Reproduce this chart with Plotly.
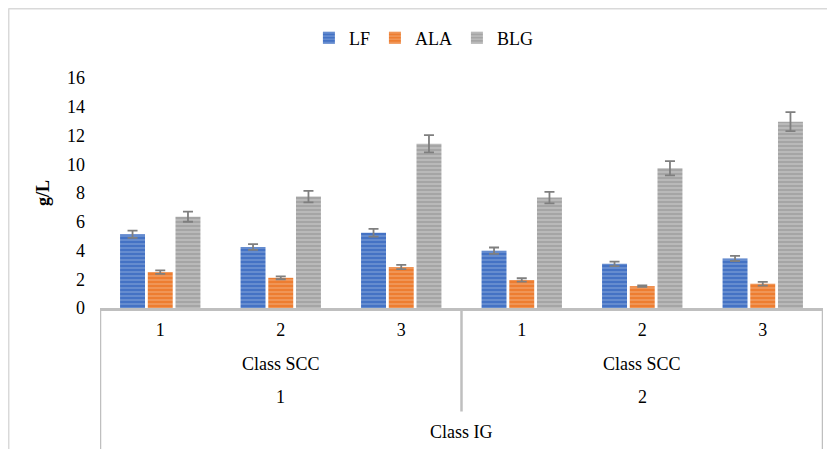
import plotly.graph_objects as go

# ---- data ----
scc_labels = ["1", "2", "3", "1", "2", "3"]
ig_labels = ["1", "2"]
scc_title = "Class SCC"
ig_title = "Class IG"
series_names = ["LF", "ALA", "BLG"]
LF = [5.13, 4.24, 5.24, 3.99, 3.07, 3.45]
LF_err = [0.25, 0.20, 0.27, 0.22, 0.15, 0.18]
ALA = [2.50, 2.10, 2.85, 1.95, 1.52, 1.69]
ALA_err = [0.12, 0.10, 0.15, 0.12, 0.05, 0.13]
BLG = [6.35, 7.75, 11.43, 7.68, 9.72, 12.96]
BLG_err = [0.35, 0.40, 0.60, 0.40, 0.50, 0.66]
y_ticks = [0, 2, 4, 6, 8, 10, 12, 14, 16]

colors = ["#4472C4", "#ED7D31", "#A5A5A5"]
stripe = ["#8FAADC", "#F4B183", "#D0D0D0"]
FONT = "Liberation Serif"

x = list(range(len(scc_labels)))
fig = go.Figure()
for name, vals, errs, c, s in zip(series_names, [LF, ALA, BLG], [LF_err, ALA_err, BLG_err], colors, stripe):
    fig.add_trace(go.Bar(
        x=x, y=vals, name=name,
        marker=dict(color=c, line=dict(width=0),
                    pattern=dict(shape="-", fgcolor=s, bgcolor=c, size=4, solidity=0.45, fillmode="overlay")),
        error_y=dict(type="data", array=errs, visible=True, color="#7F7F7F", thickness=1.8, width=5),
    ))

n = len(scc_labels)
line_col = "#BFBFBF"
border_col = "#D9D9D9"
shapes = [
    # outer chart border (left and top edges visible)
    dict(type="line", xref="paper", yref="paper", x0=-0.1266, x1=-0.1266, y0=-0.7, y1=1.302,
         line=dict(color=border_col, width=2)),
    dict(type="line", xref="paper", yref="paper", x0=-0.1266, x1=1.1, y0=1.302, y1=1.302,
         line=dict(color=border_col, width=2)),
    # hierarchical axis lines
    dict(type="line", xref="x", yref="paper", x0=-0.5, x1=-0.5, y0=0, y1=-0.7, line=dict(color=line_col, width=2.5)),
    dict(type="line", xref="x", yref="paper", x0=n / 2 - 0.5, x1=n / 2 - 0.5, y0=0, y1=-0.45, line=dict(color=line_col, width=2.5)),
    dict(type="line", xref="x", yref="paper", x0=n - 0.5, x1=n - 0.5, y0=0, y1=-0.7, line=dict(color=line_col, width=2.5)),
]

annotations = []
half = n // 2
for i, lab in enumerate(ig_labels):
    cx = i * half + (half - 1) / 2
    annotations.append(dict(x=cx, y=-0.2435, xref="x", yref="paper", text=scc_title, showarrow=False,
                            font=dict(family=FONT, size=18, color="#000"), yanchor="middle"))
    annotations.append(dict(x=cx, y=-0.387, xref="x", yref="paper", text=lab, showarrow=False,
                            font=dict(family=FONT, size=18, color="#000"), yanchor="middle"))
annotations.append(dict(x=(n - 1) / 2, y=-0.539, xref="x", yref="paper", text=ig_title, showarrow=False,
                        font=dict(family=FONT, size=18, color="#000"), yanchor="middle"))

fig.update_layout(
    width=827, height=441,
    margin=dict(l=92, r=12, t=70, b=141),
    paper_bgcolor="white", plot_bgcolor="white",
    barmode="group", bargap=0.31, bargroupgap=0.1,
    font=dict(family=FONT, size=18, color="#000"),
    legend=dict(orientation="h", x=0.448, xanchor="center", y=1.174, yanchor="middle",
                font=dict(family=FONT, size=18), itemwidth=30, bgcolor="rgba(0,0,0,0)"),
    xaxis=dict(range=[-0.5, n - 0.5], tickvals=x, ticktext=scc_labels, showline=True,
               linecolor=line_col, linewidth=2.5, showgrid=False, zeroline=False, ticks="",
               ticklabelstandoff=4, tickfont=dict(family=FONT, size=18)),
    yaxis=dict(range=[0, 16], tickvals=y_ticks, showgrid=False, zeroline=False, showline=False,
               ticks="", ticklabelstandoff=14, tickfont=dict(family=FONT, size=18),
               title=dict(text="<b>g/L</b>", font=dict(family=FONT, size=18), standoff=12)),
    shapes=shapes, annotations=annotations,
)

fig.write_html("out.html")
